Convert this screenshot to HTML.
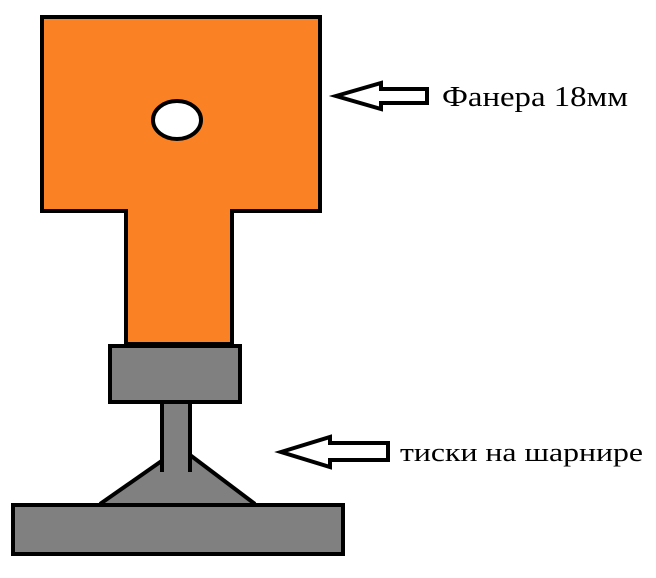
<!DOCTYPE html>
<html><head><style>body{margin:0;background:#fff}svg{display:block}text{font-family:"Liberation Serif",serif}</style></head><body>
<svg width="656" height="578" viewBox="0 0 656 578" xmlns="http://www.w3.org/2000/svg">
<polygon points="42,17 320,17 320,211 232,211 232,344 126,344 126,211 42,211" fill="#fb8224" stroke="#000" stroke-width="4"/>
<ellipse cx="177" cy="120" rx="24" ry="19" fill="#fff" stroke="#000" stroke-width="4"/>
<rect x="110" y="346" width="130" height="56" fill="#808080" stroke="#000" stroke-width="4"/>
<polygon points="100,505 162,462 162,404 190,404 190,456 255,505" fill="#808080"/>
<rect x="13" y="505" width="330" height="49" fill="#808080" stroke="#000" stroke-width="4"/>
<rect x="100" y="507" width="155" height="4" fill="#808080"/>
<line x1="100" y1="505" x2="117" y2="505" stroke="#000" stroke-width="4"/>
<line x1="235" y1="505" x2="257" y2="505" stroke="#000" stroke-width="4"/>
<line x1="100" y1="504" x2="163" y2="460" stroke="#000" stroke-width="4"/>
<line x1="190" y1="455" x2="255" y2="504" stroke="#000" stroke-width="4"/>
<polyline points="162,472 162,402 190,402 190,472" fill="none" stroke="#000" stroke-width="4"/>
<polygon points="336,96 381,83 381,89 427,89 427,103 381,103 381,109" fill="#fff" stroke="#000" stroke-width="4" stroke-linejoin="miter"/>
<polygon points="281,452 330,437 330,443 388,443 388,460 330,460 330,467" fill="#fff" stroke="#000" stroke-width="4"/>
<text x="442" y="106" font-size="29" textLength="186" lengthAdjust="spacingAndGlyphs">Фанера 18мм</text>
<text x="400" y="461" font-size="26" textLength="243" lengthAdjust="spacingAndGlyphs">тиски на шарнире</text>
</svg>
</body></html>
